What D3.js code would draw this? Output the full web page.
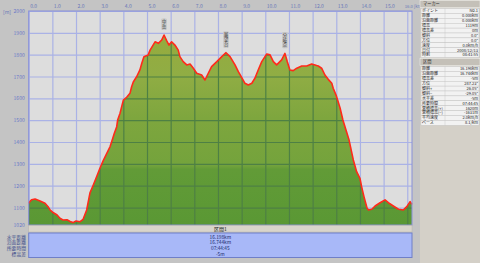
<!DOCTYPE html>
<html><head><meta charset="utf-8">
<script src="https://cdn.jsdelivr.net/npm/d3@7"></script>
<style>
html,body{margin:0;padding:0;background:#c4c4c4;}
svg{display:block;}
text{font-family:"Noto Sans CJK JP","Noto Sans",sans-serif;}
</style></head>
<body>
<svg id="c" width="480" height="263"></svg>
<script>
// ---- data ----
const distKm = [0,0.05,0.12,0.27,0.48,0.69,0.82,0.90,1.03,1.20,1.32,1.45,1.62,1.75,1.87,2.00,2.17,2.30,2.45,2.59,2.73,2.87,3.01,3.15,3.30,3.44,3.53,3.62,3.72,3.76,3.86,3.93,4.00,4.14,4.28,4.35,4.42,4.56,4.70,4.78,4.87,5.05,5.13,5.34,5.48,5.62,5.72,5.83,5.93,6.04,6.18,6.32,6.39,6.53,6.68,6.82,6.96,7.10,7.31,7.45,7.59,7.73,7.95,8.16,8.34,8.51,8.72,8.86,9.00,9.14,9.28,9.43,9.56,9.70,9.85,10.06,10.20,10.34,10.48,10.69,10.83,10.93,11.04,11.18,11.33,11.54,11.75,11.96,12.17,12.24,12.38,12.52,12.66,12.81,12.87,12.99,13.16,13.28,13.41,13.54,13.72,13.86,14.00,14.07,14.17,14.29,14.35,14.50,14.64,14.85,15.06,15.20,15.41,15.63,15.84,15.98,16.12,16.198];
const elevM = [1119,1127,1136,1139,1130,1120,1104,1089,1077,1066,1051,1043,1044,1036,1031,1038,1035,1046,1089,1167,1203,1241,1280,1315,1348,1379,1409,1440,1470,1501,1532,1562,1592,1605,1623,1653,1675,1699,1730,1761,1791,1799,1821,1859,1852,1867,1890,1864,1844,1859,1844,1821,1791,1768,1753,1757,1738,1715,1707,1684,1715,1745,1768,1791,1809,1791,1753,1722,1696,1669,1661,1669,1692,1730,1768,1803,1799,1768,1753,1776,1806,1768,1730,1727,1738,1748,1748,1757,1750,1748,1738,1707,1687,1669,1646,1615,1556,1501,1455,1409,1318,1264,1234,1196,1150,1101,1089,1092,1107,1122,1135,1122,1107,1092,1089,1104,1127,1114];
const xTickKm = [0,1,2,3,4,5,6,7,8,9,10,11,12,13,14,15,16];
const xTickLabels = ["0.0","1.0","2.0","3.0","4.0","5.0","6.0","7.0","8.0","9.0","10.0","11.0","12.0","13.0","14.0","15.0","16.0 [km]"];
const yTickM = [1020,1100,1200,1300,1400,1500,1600,1700,1800,1900,2000];
const yTickLabels = ["1020","1100","1200","1300","1400","1500","1600","1700","1800","1900","2000"];
const markerKm = [5.72,8.34,10.83];
const markerElev = [1890,1809,1806];
const markerNames = ["中岳","展望台","分岐点"];
const summaryLabels = ["水平距離","沿面距離","所要時間","標高差"];
const summaryValues = ["16.198km","16.744km","07:44:45","-5m"];
const sectionTitle = "区間1";
const markerPanelLabels = ["ポイント","距離","沿面距離","標高","標高差","傾斜","方位","速度","日付","時刻"];
const markerPanelValues = ["No.1","0.000km","0.000km","1119m","0m","0.0°","0.0°","0.0km/h","2008/12/13","08:41:55"];
const sectionPanelLabels = ["距離","沿面距離","標高差","方位","傾斜+","傾斜−","水平差","所要時間","累積標高(+)","累積標高(−)","平均速度","ペース"];
const sectionPanelValues = ["16.198km","16.744km","-5m","287.23°","26.05°","-29.05°","-5m","07:44:45","1620m","-1631m","2.0km/h","8.1/km"];

// ---- layout ----
const svg = d3.select("#c");
const L = 28.7, R = 412, T = 11, B = 225;
const x = d3.scaleLinear().domain([0,16.2]).range([L,R]);
const y = d3.scaleLinear().domain([1020,2000]).range([B,T]);

function fit(sel,w){ sel.each(function(){ if(this.getComputedTextLength()>w){ d3.select(this).attr("textLength",w).attr("lengthAdjust","spacingAndGlyphs"); } }); }

svg.append("rect").attr("width",480).attr("height",263).attr("fill","#c4c4c4");
svg.append("rect").attr("x",L).attr("y",T).attr("width",R-L).attr("height",B-T).attr("fill","#dddddd");

const defs = svg.append("defs");
const g = defs.append("linearGradient").attr("id","fillg").attr("gradientUnits","userSpaceOnUse")
  .attr("x1",0).attr("x2",0).attr("y1",T).attr("y2",B);
[[0,"#9aa93a"],[0.3,"#90ad44"],[0.5,"#7ea63e"],[0.72,"#74a33c"],[0.74,"#629b37"],[1,"#5a9834"]]
  .forEach(([o,c])=>g.append("stop").attr("offset",o).attr("stop-color",c));

const pts = distKm.map((d,i)=>[d,elevM[i]]);
const area = d3.area().x(d=>x(d[0])).y0(B).y1(d=>y(d[1]));
const line = d3.line().x(d=>x(d[0])).y(d=>y(d[1]));
defs.append("clipPath").attr("id","areaclip").append("path").attr("d",area(pts));

function grid(sel,color){
  sel.append("g").attr("transform",`translate(0,${B})`)
    .call(d3.axisBottom(x).tickValues(xTickKm).tickSize(-(B-T)).tickFormat(""))
    .call(a=>a.select(".domain").remove())
    .call(a=>a.selectAll("line").attr("stroke",color).attr("stroke-width",1.2));
  sel.append("g").attr("transform",`translate(${L},0)`)
    .call(d3.axisLeft(y).tickValues(yTickM.slice(1)).tickSize(-(R-L)).tickFormat(""))
    .call(a=>a.select(".domain").remove())
    .call(a=>a.selectAll("line").attr("stroke",color).attr("stroke-width",1.2));
}
grid(svg.append("g"),"#aab2e6");

svg.append("path").attr("d",area(pts)).attr("fill","url(#fillg)");
grid(svg.append("g").attr("clip-path","url(#areaclip)"),"#4e8044");

svg.append("path").attr("d",line(pts)).attr("fill","none").attr("stroke","#ff2a1a").attr("stroke-width",1.6).attr("stroke-linejoin","round");

svg.append("rect").attr("x",L).attr("y",T).attr("width",R-L).attr("height",B-T)
  .attr("fill","none").attr("stroke","#8890d8").attr("stroke-width",1);

// axis labels
const xAx = svg.append("g").attr("transform",`translate(0,${T})`)
  .call(d3.axisTop(x).tickValues(xTickKm).tickSize(0).tickPadding(3).tickFormat((d,i)=>xTickLabels[i]));
xAx.select(".domain").remove();
xAx.selectAll("text").attr("text-anchor","start").attr("dx",1).attr("fill","#6a78b8").attr("font-size",5);
xAx.selectAll("text").filter((d,i)=>i===xTickLabels.length-1).attr("dx",-3).attr("font-size",4.2);

const yAx = svg.append("g").attr("transform",`translate(${L},0)`)
  .call(d3.axisLeft(y).tickValues(yTickM).tickSize(0).tickPadding(4).tickFormat((d,i)=>yTickLabels[i]));
yAx.select(".domain").remove();
yAx.selectAll("text").attr("fill","#6a78c8").attr("font-size",5);
svg.append("text").attr("x",3).attr("y",14).attr("font-size",5).attr("fill","#6a78b8").text("[m]");

// markers (vertical text)
markerNames.forEach((nm,i)=>{
  const cx = x(markerKm[i]);
  const chars = Array.from(nm);
  const step = 4.8;
  const top = y(markerElev[i]) - 6 - chars.length*step;
  const mg = svg.append("g");
  mg.append("rect").attr("x",cx-2.8).attr("y",top-1).attr("width",5.6).attr("height",chars.length*step+2)
    .attr("fill","#c8c8c8").attr("rx",1);
  chars.forEach((c,j)=>mg.append("text").attr("x",cx).attr("y",top+3.9+j*step).attr("text-anchor","middle")
    .attr("font-size",4.2).attr("fill","#333").text(c));
});

// bottom section bar
svg.append("rect").attr("x",L).attr("y",225.5).attr("width",R-L).attr("height",6.5).attr("fill","#d9d5cb").attr("stroke","#b8b4ac").attr("stroke-width",0.5);
svg.append("text").attr("x",(L+R)/2).attr("y",230.8).attr("text-anchor","middle").attr("font-size",5).attr("fill","#222").text(sectionTitle);
svg.append("rect").attr("x",L).attr("y",233).attr("width",R-L).attr("height",24.5).attr("fill","#a8b8f8").attr("stroke","#6f7fc8").attr("stroke-width",1);
summaryLabels.forEach((t,i)=>{
  svg.append("text").attr("x",26).attr("y",238.5+i*5.8).attr("text-anchor","end").attr("font-size",4.8).attr("fill","#3a4a8a").text(t);
  svg.append("text").attr("x",(L+R)/2).attr("y",238.5+i*5.8).attr("text-anchor","middle").attr("font-size",4.8).attr("fill","#1a2a6a").text(summaryValues[i]);
});

// right panel
svg.append("rect").attr("x",420).attr("y",0).attr("width",60).attr("height",263).attr("fill","#d4d0c8");
function panel(y0,title,labels,values){
  const rh = 4.9;
  svg.append("rect").attr("x",420).attr("y",y0).attr("width",60).attr("height",7).attr("fill","#c4c0b8").attr("stroke","#f4f4f0").attr("stroke-width",0.5);
  svg.append("text").attr("x",423).attr("y",y0+4.6).attr("font-size",4.2).attr("fill","#333").text(title);
  labels.forEach((l,i)=>{
    const ry = y0+8+i*rh;
    svg.append("rect").attr("x",421).attr("y",ry).attr("width",58).attr("height",rh).attr("fill","#f2f2f2").attr("stroke","#c0c0c0").attr("stroke-width",0.4);
    svg.append("line").attr("x1",445).attr("x2",445).attr("y1",ry).attr("y2",ry+rh).attr("stroke","#c0c0c0").attr("stroke-width",0.4);
    svg.append("text").attr("x",422).attr("y",ry+3.8).attr("font-size",4).attr("fill","#222").text(l).call(fit,22);
    svg.append("text").attr("x",478).attr("y",ry+3.8).attr("text-anchor","end").attr("font-size",4).attr("fill","#222").text(values[i]).call(fit,31);
  });
}
panel(0.5,"マーカー",markerPanelLabels,markerPanelValues);
panel(58.5,"区間",sectionPanelLabels,sectionPanelValues);
</script>
</body></html>
